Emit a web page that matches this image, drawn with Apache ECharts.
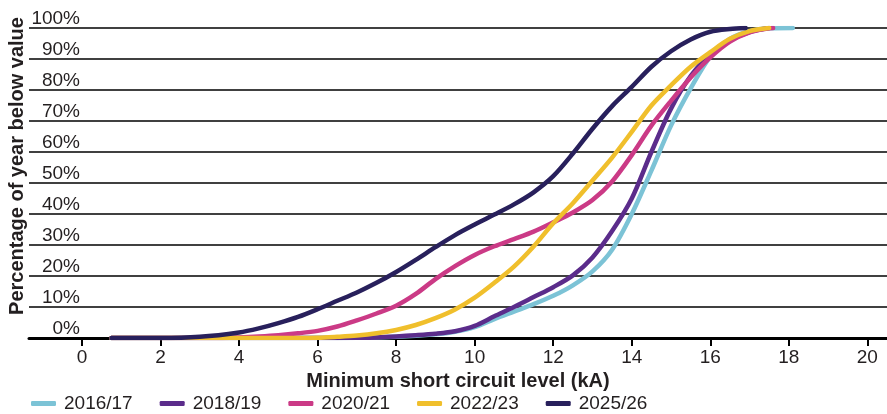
<!DOCTYPE html>
<html>
<head>
<meta charset="utf-8">
<script src="https://cdn.jsdelivr.net/npm/echarts@6/dist/echarts.min.js"></script>
<style>
  html, body { margin: 0; padding: 0; background: #fff; }
  #chart { width: 887px; height: 414px; }
</style>
</head>
<body>
<div id="chart"></div>
<script>
// kA, % of year below value
var s2016 = [[0.75,0],[6,0],[7,0.1],[8,0.4],[9,1.2],[9.5,2],[10,3.5],[10.5,6.1],[11,8.5],[11.5,10.9],[12,13.6],[12.5,17],[13,21.5],[13.5,28.5],[14,40],[14.5,54],[15,68.5],[15.5,80.5],[16,90.8],[16.5,96.5],[17,99],[17.5,99.9],[18.1,100]];
var s2018 = [[0.75,0],[6,0],[7,0.1],[7.5,0.2],[8,0.5],[8.5,0.9],[9,1.4],[9.5,2.2],[10,3.9],[10.5,7],[11,10],[11.5,13.2],[12,16.4],[12.5,20.2],[13,26],[13.5,34.5],[14,45],[14.5,60],[15,74],[15.5,84.5],[16,91.5],[16.5,96],[17,98.7],[17.5,100]];
var s2020 = [[0.75,0],[3.5,0],[4,0.2],[4.5,0.5],[5,0.9],[5.5,1.5],[6,2.3],[6.5,3.7],[7,5.7],[7.5,7.9],[8,10.4],[8.5,14.2],[9,19],[9.5,23.2],[10,26.8],[10.5,29.6],[11,31.9],[11.5,34.3],[12,37.3],[12.5,40.5],[13,44.5],[13.5,50.5],[14,59],[14.5,68.5],[15,76.5],[15.5,84],[16,90.5],[16.5,95.6],[17,98.6],[17.5,99.9],[17.6,100]];
var s2022 = [[0.75,0],[5,0],[6,0.1],[6.5,0.4],[7,0.8],[7.5,1.5],[8,2.6],[8.5,4.2],[9,6.4],[9.5,9.2],[10,13],[10.5,17.8],[11,23],[11.5,29.5],[12,37],[12.5,43.5],[13,50.8],[13.5,58.2],[14,66.5],[14.5,75],[15,81.5],[15.5,87.5],[16,92.2],[16.5,96.5],[17,99],[17.5,100]];
var s2025 = [[0.75,0],[2,0],[3,0.4],[4,1.8],[4.5,3.1],[5,4.8],[5.5,6.8],[6,9.3],[6.5,12],[7,14.7],[7.5,17.8],[8,21.3],[8.5,25.2],[9,29.3],[9.5,33.2],[10,36.6],[10.5,39.8],[11,43.1],[11.5,47],[12,52.2],[12.5,59.5],[13,67.5],[13.5,74.8],[14,81],[14.5,87.5],[15,92.5],[15.5,96.3],[16,98.8],[16.5,99.7],[16.9,100]];

var seriesNames = ['2016/17', '2018/19', '2020/21', '2022/23', '2025/26'];
var seriesData = [s2016, s2018, s2020, s2022, s2025];
var colors = ['#7cc3d6', '#5b2c8b', '#cb3a86', '#f0bf2c', '#28205c'];
var xTicks = [0, 2, 4, 6, 8, 10, 12, 14, 16, 18, 20];

var font = '"Liberation Sans", Arial, sans-serif';
var txt = '#231f20';

var series = [];
for (var i = 0; i < seriesNames.length; i++) {
	series.push({
		name: seriesNames[i],
		type: 'line',
		data: seriesData[i],
		smooth: 0.3,
		symbol: 'none',
		lineStyle: { width: 4.5, color: colors[i], cap: 'round', join: 'round' },
		itemStyle: { color: colors[i] }
	});
}

var option = {
	animation: false,
	color: colors,
	textStyle: { fontFamily: font },
	grid: { left: 29, right: 0, top: 28, bottom: 76, outerBoundsMode: 'none' },
	legend: {
		left: 26,
		bottom: -4,
		itemWidth: 25,
		itemHeight: 5,
		itemGap: 27,
		icon: 'roundRect',
		textStyle: { fontSize: 19, color: txt, fontFamily: font, padding: [0, 0, 0, 3] },
		data: seriesNames
	},
	xAxis: {
		type: 'value',
		min: -1.35,
		max: 20.5,
		name: 'Minimum short circuit level (kA)',
		nameLocation: 'middle',
		nameGap: 31,
		nameTextStyle: { fontSize: 20, fontWeight: 'bold', color: txt, fontFamily: font },
		axisLine: { show: true, lineStyle: { color: '#000', width: 3 } },
		axisTick: { show: true, customValues: xTicks, length: 8, lineStyle: { color: '#000', width: 2 } },
		axisLabel: { customValues: xTicks, fontSize: 19, color: txt, margin: 10, fontFamily: font },
		splitLine: { show: false }
	},
	yAxis: {
		type: 'value',
		min: 0,
		max: 100,
		interval: 10,
		axisLine: { show: false },
		axisTick: { show: false },
		axisLabel: {
			inside: true,
			align: 'right',
			verticalAlign: 'bottom',
			margin: 51,
			fontSize: 19,
			color: txt,
			fontFamily: font,
			formatter: '{value}%'
		},
		splitLine: { show: true, lineStyle: { color: '#000', width: 1.5 } }
	},
	graphic: [{
		type: 'text',
		x: 17,
		y: 166,
		rotation: Math.PI / 2,
		style: {
			text: 'Percentage of year below value',
			font: 'bold 20px ' + font,
			fill: txt,
			textAlign: 'center',
			textVerticalAlign: 'middle'
		}
	}],
	series: series
};

var myChart = echarts.init(document.getElementById('chart'));
myChart.setOption(option);
</script>
</body>
</html>
